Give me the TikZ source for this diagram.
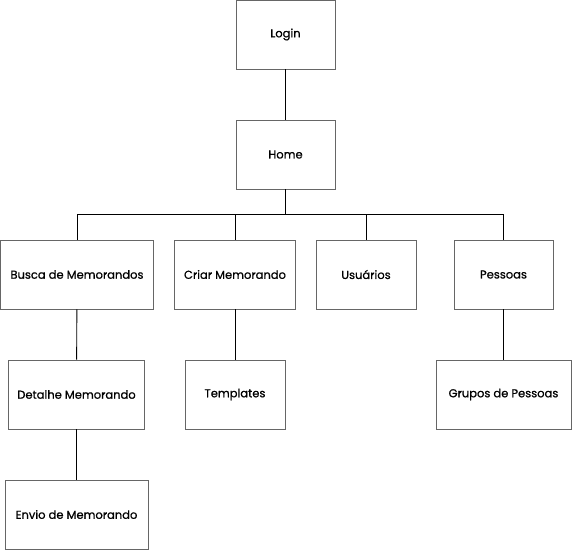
\documentclass[tikz,border=0pt]{standalone}
\usepackage{fontspec}
\setmainfont{Poppins}[RawFeature={embolden=0.8}]
\usepackage{tikz}
\usetikzlibrary{calc}

\tikzset{
  tela/.style={draw=black!60, line width=0.9pt, minimum height=69pt, inner sep=0pt,
    font=\fontsize{11.5}{13}\selectfont},
  liga/.style={draw=black, line width=0.9pt}
}

\begin{document}
\begin{tikzpicture}[x=1pt,y=-1pt]
      \useasboundingbox (0,0) rectangle (572,550);
      \node[tela, minimum width=99pt] (login) at (285.5,34.5) {Login};
      \node[tela, minimum width=99pt] (home) at (285.5,154.5) {Home};
      \node[tela, minimum width=153pt] (busca) at (77,274.5) {Busca de Memorandos};
      \node[tela, minimum width=121pt] (criar) at (235,274.5) {Criar Memorando};
      \node[tela, minimum width=100pt] (usuarios) at (366,274.5) {Usuários};
      \node[tela, minimum width=99pt] (pessoas) at (503.5,274.5) {Pessoas};
      \node[tela, minimum width=136pt] (detalhe) at (76.5,394.5) {Detalhe Memorando};
      \node[tela, minimum width=100pt] (templates) at (235,394.5) {Templates};
      \node[tela, minimum width=135pt] (grupos) at (503.5,394.5) {Grupos de Pessoas};
      \node[tela, minimum width=143pt] (envio) at (76.5,514.5) {Envio de Memorando};
      \draw [liga] (login) -- (home);
      \draw [liga] (home.south) -- ++(0,25) -| (busca.north);
      \draw [liga] (home.south) -- ++(0,25) -| (criar.north);
      \draw [liga] (home.south) -- ++(0,25) -| (usuarios.north);
      \draw [liga] (home.south) -- ++(0,25) -| (pessoas.north);
      \draw [liga] (busca) -- (detalhe);
      \draw [liga] (detalhe) -- (envio);
      \draw [liga] (criar) -- (templates);
      \draw [liga] (pessoas) -- (grupos);
    \end{tikzpicture}
\end{document}
